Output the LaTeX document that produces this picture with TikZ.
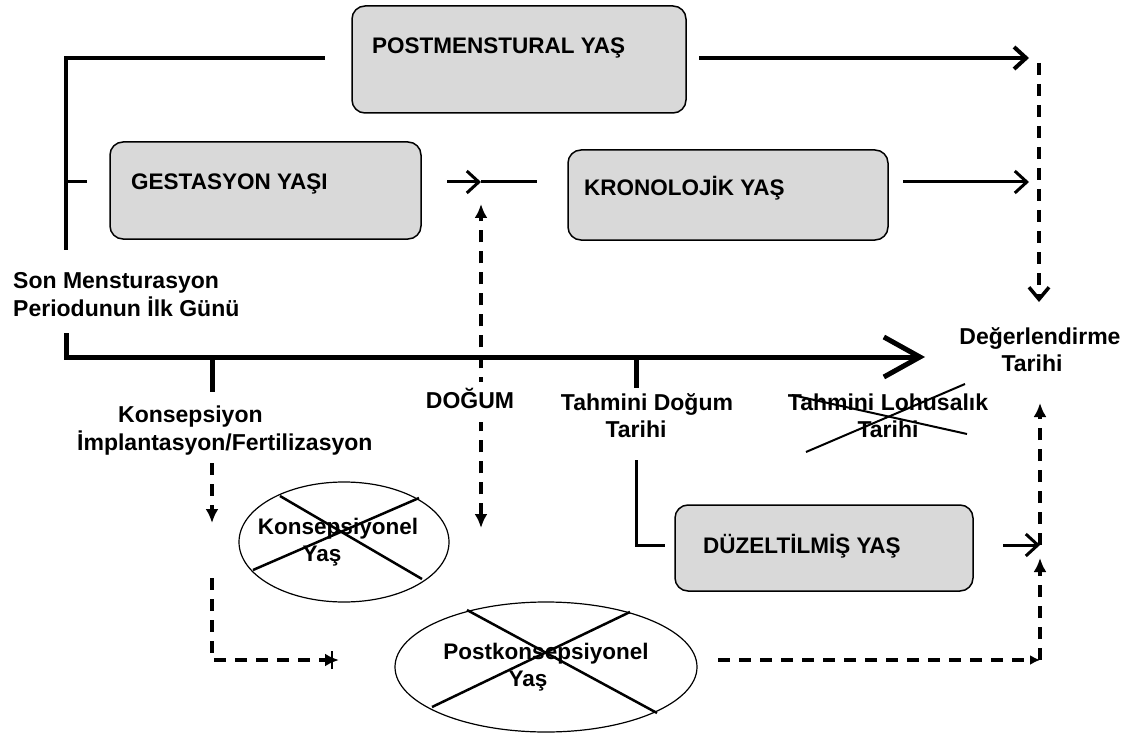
\documentclass[tikz,border=0pt]{standalone}
\usepackage{fontspec}
\setmainfont{Liberation Sans}
\usetikzlibrary{arrows.meta,shapes.geometric}
\definecolor{boxgray}{RGB}{217,217,217}
\newcommand\lblfont{\fontsize{22.5}{27}\selectfont\bfseries}
\newcommand\lblfontb{\fontsize{23}{27}\selectfont\bfseries}
\newcommand\tallstrut{\rule[-8.1pt]{0pt}{29pt}}
\newcommand\zline[1]{\makebox[0pt][c]{#1}}
\begin{document}
\begin{tikzpicture}[x=1pt,y=-1pt,
  agebox/.style={draw=black, line width=1.5pt, fill=boxgray, rounded corners=13pt, inner sep=0pt},
  title/.style={font=\lblfont, anchor=base west, inner sep=0pt},
  lbl/.style={font=\lblfontb, inner sep=0pt},
  crossed/.style={draw=black, line width=1.2pt, ellipse, inner sep=0pt, font=\lblfont, align=center},
  xline/.style={line width=2.5pt},
  thickline/.style={line width=4pt},
  axisline/.style={line width=5pt, -{Straight Barb[length=36pt,width=40pt]}},
  solidarrow/.style={line width=3pt, -{Straight Barb[length=12pt,width=22pt]}},
  dashline/.style={line width=3.5pt, dash pattern=on 12pt off 9pt},
  filltip/.style={-{Latex[length=14pt,width=13pt]}},
  bothtip/.style={{Latex[length=14pt,width=13pt]}-{Latex[length=14pt,width=13pt]}},
]
\fill[white] (0,0) rectangle (1131,735);
\useasboundingbox (0,0) rectangle (1131,735);

% boxes
\node[agebox, minimum width=334pt, minimum height=107pt] (pm) at (519,59.5) {};
\node[title] (pmt) at (372,54) {POSTMENSTURAL YAŞ};
\node[agebox, minimum width=311pt, minimum height=97pt] (gy) at (265.5,190.5) {};
\node[title] (gyt) at (131,190) {GESTASYON YAŞI};
\node[agebox, minimum width=320pt, minimum height=90pt] (ky) at (728,195) {};
\node[title] (kyt) at (584,196) {KRONOLOJİK YAŞ};
\node[agebox, minimum width=298pt, minimum height=86pt] (dy) at (824,548) {};
\node[title] (dyt) at (703,553) {DÜZELTİLMİŞ YAŞ};

% labels
\node[lbl, anchor=north west, align=left] (sm) at (13,269)
  {\strut Son Mensturasyon\\\strut Periodunun İlk Günü};
\node[lbl, anchor=north west, align=left] (kon) at (77,403)
  {\strut\hspace*{41pt}Konsepsiyon\\\strut İmplantasyon/Fertilizasyon};
\node[lbl, anchor=north, align=center] (tdt) at (647,391)
  {\strut Tahmini Doğum\\\strut Tarihi\hspace*{22pt}};
\node[lbl, anchor=north, align=center] (tlt) at (888,391)
  {\strut Tahmini Lohusalık\\\strut Tarihi};
\node[lbl, anchor=north, align=center] (dt) at (1040,325)
  {\strut Değerlendirme\\\strut Tarihi\hspace*{16pt}};

% ellipses
\node[crossed, minimum width=210pt, minimum height=120pt] (ke) at (344,542)
  {\tallstrut\zline{Konsepsiyonel\hspace*{12pt}}\\\strut\zline{Yaş\hspace*{44pt}}};
\node[crossed, minimum width=302pt, minimum height=130pt] (pke) at (546,667)
  {\tallstrut\zline{Postkonsepsiyonel}\\\strut\zline{Yaş\hspace*{36pt}}};
\draw[xline] (280,496) -- (422,579);
\draw[xline] (253,570) -- (419,498);
\draw[xline] (467,610) -- (657,713);
\draw[xline] (432,707) -- (630,612);
% crossed-out label
\draw[line width=2pt] (792,395) -- (967,434);
\draw[line width=2pt] (806,452) -- (965,384);

% coordinates
\coordinate (pmL) at (325,58);
\coordinate (smTop) at (66,250);
\coordinate (gyTick) at (87,182);
\coordinate (pmR) at (699,58);
\coordinate (evTop) at (1029,58);
\coordinate (gyR) at (447,182);
\coordinate (birthJ) at (481,182);
\coordinate (kyL) at (537,182);
\coordinate (kyR) at (903,182);
\coordinate (evMid) at (1029,182);
\coordinate (dashTop) at (1039,63);
\coordinate (dashTopEnd) at (1039,302);
\coordinate (smBot) at (66,333);
\coordinate (axEnd) at (925,357);
\coordinate (konAx) at (212,357);
\coordinate (konTk) at (212,392);
\coordinate (tdAx) at (636,357);
\coordinate (tdTk) at (636,388);
\coordinate (tdLow) at (636,460);
\coordinate (tdEnd) at (665,545);
\coordinate (dyR) at (1003,545);
\coordinate (evLow) at (1040,545);
\coordinate (evUp) at (1040,403);
\coordinate (pkR) at (718,660);
\coordinate (evCorner) at (1040,660);
\coordinate (evBot) at (1040,558);
\coordinate (konLow) at (212,463);
\coordinate (konTip) at (212,523);
\coordinate (konDash) at (212,578);
\coordinate (pkL) at (339,660);
\coordinate (birthUp) at (481,204);
\coordinate (birthDown) at (481,528);

% solid connectors
\draw[thickline] (pmL) -| (smTop);
\draw[line width=3pt] (gyTick) -- (gyTick -| smTop);
\draw[solidarrow, line width=4pt] (pmR) -- (evTop);
\draw[solidarrow] (gyR) -- (birthJ);
\draw[line width=3pt] (birthJ) -- (kyL);
\draw[solidarrow] (kyR) -- (evMid);
\draw[axisline] (smBot) |- (axEnd);
\draw[line width=5pt] (konAx) -- (konTk);
\draw[line width=5pt] (tdAx) -- (tdTk);
\draw[line width=3pt] (tdLow) |- (tdEnd);
\draw[solidarrow] (dyR) -- (evLow);

% dashed connectors
\draw[dashline, -{Straight Barb[length=12pt,width=20pt]}] (dashTop) -- (dashTopEnd);
\draw[dashline, filltip] (evLow) -- (evUp);
\draw[dashline, -{Latex[length=10pt,width=10pt]}] (pkR) -- (evCorner);
\draw[dashline, filltip] (evCorner) -- (evBot);
\draw[dashline, filltip] (konLow) -- (konTip);
\draw[dashline, filltip] (konDash) |- (pkL);
\draw[line width=2.5pt] ([xshift=-7pt,yshift=-9pt]pkL) -- ([xshift=-7pt,yshift=9pt]pkL);
\draw[dashline, bothtip] (birthDown) -- (birthUp);
\node[lbl, anchor=base, fill=white, inner xsep=2pt, inner ysep=6pt] (dog) at (470,408) {\strut DOĞUM};
\end{tikzpicture}
\end{document}
